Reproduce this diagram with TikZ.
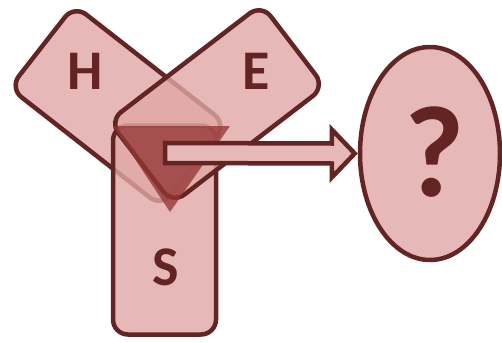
\documentclass[tikz,border=0pt]{standalone}
\usepackage{fontspec}
\setmainfont{Carlito}
\usetikzlibrary{shapes.geometric,calc}
\definecolor{rosefill}{HTML}{E6B9B8}
\definecolor{rosebase}{HTML}{E0A8A6}
\definecolor{roseline}{HTML}{632523}
\definecolor{rosedark}{HTML}{943634}
\tikzset{
  every picture/.style={line join=round, line cap=round},
  petal/.style={draw=roseline, fill=rosebase, fill opacity=0.8,
    line width=4.5pt, rounded corners=15pt, inner sep=0pt},
  letter/.style={text=roseline, font=\fontsize{56}{56}\selectfont\bfseries},
}
\begin{document}
\begin{tikzpicture}[x=1pt,y=-1pt]
    \useasboundingbox (0,0) rectangle (502,342);

    % The three boxes
    \node[petal, minimum width=193pt, minimum height=105pt, rotate=-38] (hbox) at (118,106) {};
    \node[petal, minimum width=103pt, minimum height=209pt] (sbox) at (164.5,230) {};
    \node[petal, minimum width=192pt, minimum height=104pt, rotate=37.5] (ebox) at (217,104) {};
    \node[letter] (hlab) at (85,71) {H};
    \node[letter] (elab) at (256,71) {E};
    \node[letter] (slab) at (166,267) {S};

    % Where they meet
    \fill[rosedark, fill opacity=0.77] (113,126) -- (230,126) -- (170,212) -- cycle;

    % The unknown
    \node[draw=roseline, fill=rosefill, line width=4.5pt, ellipse,
          minimum width=140pt, minimum height=213pt] (ques) at (430,153.5) {};
    \node[text=roseline, font=\fontsize{130}{130}\selectfont\bfseries] (qmark) at (435,152.5) {?};

    % Hollow arrow
    \coordinate (tail) at (165,153);
    \draw[draw=roseline, fill=rosefill, line width=4.5pt, line join=miter]
        ($(tail)+(0,-10)$) -- ($(ques.west)+(-26,-10)$) -- ($(ques.west)+(-26,-24)$)
        -- ($(ques.west)+(-3,0)$) -- ($(ques.west)+(-26,24)$) -- ($(ques.west)+(-26,10)$)
        -- ($(tail)+(0,10)$) -- cycle;
\end{tikzpicture}
\end{document}
